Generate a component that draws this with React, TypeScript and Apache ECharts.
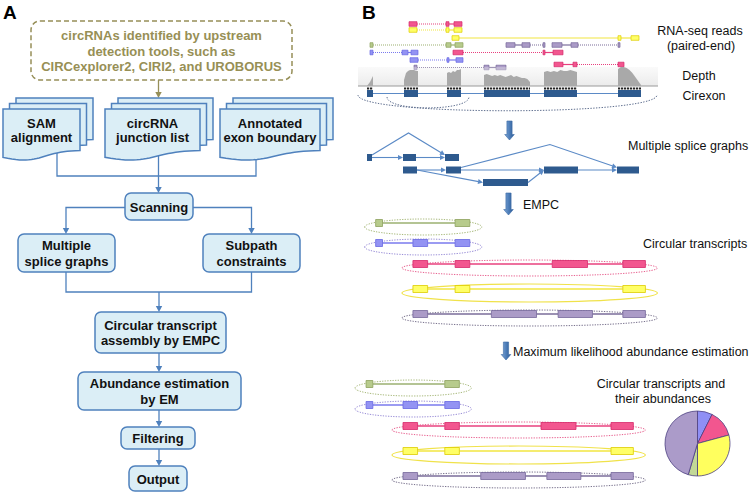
import React, { useEffect, useRef } from "react";
import * as echarts from "echarts";

const FONT = "'Liberation Sans', Arial, Helvetica, sans-serif";

// ---------------- Panel A texts ----------------
const upstreamText = ["circRNAs identified by upstream", "detection tools, such as", "CIRCexplorer2, CIRI2, and UROBORUS"];
const inputDocs = [["SAM", "alignment"], ["circRNA", "junction list"], ["Annotated", "exon boundary"]];
const stepTexts = [
  ["Scanning"],
  ["Multiple", "splice graphs"],
  ["Subpath", "constraints"],
  ["Circular transcript", "assembly by EMPC"],
  ["Abundance estimation", "by EM"],
  ["Filtering"],
  ["Output"],
];

// ---------------- Panel B data (genome coordinates) ----------------
const cirexons = [[367, 373], [404, 418], [447, 461], [484, 530], [544, 577], [618, 641]];
const depthHeights = [
  [0, 2, 4, 7, 10],
  [6, 13, 15, 16, 16, 16, 15, 15],
  [13, 14, 13, 15, 14, 16, 16, 17],
  [11, 12, 11, 10, 11, 10, 11, 10, 9, 10, 11, 9, 10, 9, 8, 8, 7, 4],
  [14, 15, 14, 15, 14, 16, 15, 15, 16, 15, 14],
  [17, 19, 19, 18, 16, 13, 9, 5, 1],
];
// paired-end reads: row, colour, mates (each mate = list of aligned blocks)
const reads = [
  { row: 0, c: "pink", mates: [[[409, 417]], [[446, 449], [454, 462]]] },
  { row: 1, c: "yellow", mates: [[[409, 417]], [[446, 449], [454, 462]]] },
  { row: 2, c: "yellow", mates: [[[452, 459], [618, 621], [631, 639]]] },
  { row: 3, c: "green", mates: [[[370, 373]], [[446, 451], [455, 463]]] },
  { row: 3, c: "purple", mates: [[[506, 515], [522, 530]], [[543, 545]]] },
  { row: 3, c: "purple", mates: [[[552, 562], [571, 578]], [[618, 620]]] },
  { row: 4, c: "blue", mates: [[[370, 373]], [[402, 408], [411, 418]]] },
  { row: 4, c: "pink", mates: [[[453, 463]], [[543, 545], [553, 563]]] },
  { row: 5, c: "blue", mates: [[[410, 418]], [[447, 449], [456, 463]]] },
  { row: 6, c: "pink", mates: [[[554, 563], [573, 577]], [[618, 624]]] },
  { row: 7, c: "purple", mates: [[[414, 417]], [[484, 489], [496, 506]]] },
];
// splice graph nodes [start, end, row] and edges [from, to, humpHeight, humpPos]
const spliceNodes = [
  [367, 372, 0], [403, 416, 0], [445, 459, 0],
  [403, 417, 1], [446, 461, 1], [483, 528, 2], [544, 578, 1], [617, 639, 1],
];
const spliceEdges = [
  [0, 2, 22, 0.5], [0, 1, 0, 0], [1, 2, 0, 0], [3, 4, 0, 0], [3, 5, 0, 0],
  [4, 7, 23, 0.57], [4, 6, 0, 0], [5, 6, 0, 0], [6, 7, 0, 0],
];
const transcriptColors = ["green", "blue", "pink", "yellow", "purple"];
const transcriptExons = [
  [[366, 373], [447, 462]],
  [[366, 373], [404, 419], [447, 462]],
  [[404, 419], [447, 462], [546, 582], [618, 641]],
  [[404, 419], [447, 462], [618, 641]],
  [[404, 419], [484, 530], [552, 587], [618, 641]],
];
const pieNames = ["blue", "pink", "yellow", "green", "purple"];
const pieValues = [7.4, 13.4, 29.2, 4.6, 45.4];
const panelBLabels = [
  "RNA-seq reads", "(paired-end)", "Depth", "Cirexon", "Multiple splice graphs", "EMPC",
  "Circular transcripts", "Maximum likelihood abundance estimation", "Circular transcripts and", "their abundances",
];

// ---------------- styles ----------------
const PAL: Record<string, { fill: string; stroke: string; line: string; ell: string }> = {
  green: { fill: "#b7cb8c", stroke: "#8da15d", line: "#9bb070", ell: "#a9ba7c" },
  blue: { fill: "#9393f3", stroke: "#6767e2", line: "#7a7aee", ell: "#9a8ed8" },
  pink: { fill: "#f2568f", stroke: "#d6286a", line: "#e8407e", ell: "#e8608f" },
  yellow: { fill: "#ffff66", stroke: "#ddcc00", line: "#f2e640", ell: "#f0e24a" },
  purple: { fill: "#ab9bc7", stroke: "#75679a", line: "#7a6c9a", ell: "#77708c" },
};
const BLUE = "#4f81bd";
const BOXFILL = "#dbeef6";
const DARK = "#2e5a8e";

function buildGraphics() {
  const el: any[] = [];
  const line = (pts: number[][], stroke: string, lw = 1, dash?: number[]) =>
    el.push({ type: "polyline", silent: true, shape: { points: pts }, style: { stroke, lineWidth: lw, fill: null, lineDash: dash } });
  const poly = (pts: number[][], fill: any, stroke?: string, lw = 1) =>
    el.push({ type: "polygon", silent: true, shape: { points: pts }, style: { fill, stroke: stroke || null, lineWidth: lw } });
  const rect = (x: number, y: number, w: number, h: number, fill: string, stroke?: string, lw = 1, r = 0) =>
    el.push({ type: "rect", silent: true, shape: { x, y, width: w, height: h, r }, style: { fill, stroke: stroke || null, lineWidth: lw } });
  const text = (x: number, y: number, t: string, size: number, weight = "normal", fill = "#111", align = "center") =>
    el.push({
      type: "text", silent: true, x, y,
      style: { text: t, font: `${weight} ${size}px ${FONT}`, fill, align, verticalAlign: "middle", textAlign: align, textVerticalAlign: "middle" },
    });
  const head = (x1: number, y1: number, x2: number, y2: number, len: number, half: number, color: string) => {
    const a = Math.atan2(y2 - y1, x2 - x1);
    const bx = x2 - len * Math.cos(a), by = y2 - len * Math.sin(a);
    const px = -Math.sin(a) * half, py = Math.cos(a) * half;
    poly([[x2, y2], [bx + px, by + py], [bx - px, by - py]], color);
    return [bx, by];
  };
  const arrowLine = (pts: number[][], color: string, lw: number, len: number, half: number) => {
    const n = pts.length;
    const [x1, y1] = pts[n - 2];
    const [x2, y2] = pts[n - 1];
    const a = Math.atan2(y2 - y1, x2 - x1);
    const cut = [x2 - (len - 0.5) * Math.cos(a), y2 - (len - 0.5) * Math.sin(a)];
    line([...pts.slice(0, n - 1), cut], color, lw);
    head(x1, y1, x2, y2, len, half, color);
  };
  const blockArrow = (cx: number, top: number, bottom: number) => {
    const s = 2.6, h = 4.8, hl = 5.5;
    poly(
      [[cx - s, top], [cx + s, top], [cx + s, bottom - hl], [cx + h, bottom - hl], [cx, bottom], [cx - h, bottom - hl], [cx - s, bottom - hl]],
      new echarts.graphic.LinearGradient(0, 0, 1, 0, [
        { offset: 0, color: "#7ea6d6" }, { offset: 0.5, color: "#4f7fba" }, { offset: 1, color: "#2c5a94" },
      ]),
      "#3a6aa5", 0.6
    );
  };
  const bez = (p0: number[], p1: number[], p2: number[], p3: number[], t: number) => {
    const u = 1 - t;
    return [
      u * u * u * p0[0] + 3 * u * u * t * p1[0] + 3 * u * t * t * p2[0] + t * t * t * p3[0],
      u * u * u * p0[1] + 3 * u * u * t * p1[1] + 3 * u * t * t * p2[1] + t * t * t * p3[1],
    ];
  };
  const docPts = (x: number, y: number, w: number, h: number) => {
    const pts = [[x, y], [x + w, y], [x + w, y + 0.8 * h]];
    const p0 = [x + w, y + 0.8 * h], p1 = [x + 0.5 * w, y + 0.8 * h], p2 = [x + 0.5 * w, y + 1.1 * h], p3 = [x, y + 0.93 * h];
    for (let i = 1; i <= 24; i++) pts.push(bez(p0, p1, p2, p3, i / 24));
    return pts;
  };

  // ================= Panel A =================
  text(3, 12, "A", 19, "bold", "#000", "left");
  // upstream dashed box
  el.push({
    type: "rect", silent: true, shape: { x: 31, y: 21, width: 261, height: 59, r: 9 },
    style: { fill: null, stroke: "#968f58", lineWidth: 1.5, lineDash: [5, 3] },
  });
  const upY = [35, 51, 66];
  upstreamText.forEach((t, i) => text(161.5, upY[i], t, 13, "bold", "#978f55"));
  arrowLine([[158.5, 80], [158.5, 98]], "#968f58", 1.3, 6, 3.2);

  // connectors under docs (drawn before docs)
  line([[57, 150], [57, 176], [256, 176], [256, 150]], BLUE, 1.3);
  line([[158.5, 150], [158.5, 176]], BLUE, 1.3);
  arrowLine([[158.5, 176], [158.5, 193]], BLUE, 1.3, 6, 3.2);

  // input document stacks
  const docX = [3, 105, 220], docW = [77, 95, 100];
  const docTop = 109, docH = 52;
  inputDocs.forEach((lines, i) => {
    [[13, -11], [6.5, -5.5], [0, 0]].forEach(([dx, dy]) => {
      poly(docPts(docX[i] + dx, docTop + dy, docW[i], docH), BOXFILL, BLUE, 1.5);
    });
    const cx = docX[i] + docW[i] / 2;
    text(cx, 123, lines[0], 13, "bold");
    text(cx, 137.5, lines[1], 13, "bold");
  });

  // process boxes
  const boxes = [
    { x: 125, y: 193, w: 68, h: 27 },
    { x: 18, y: 234, w: 97, h: 38 },
    { x: 203, y: 234, w: 97, h: 38 },
    { x: 95, y: 312, w: 131, h: 41 },
    { x: 78, y: 372, w: 163, h: 38 },
    { x: 121, y: 427, w: 74, h: 22 },
    { x: 129, y: 466, w: 58, h: 25 },
  ];
  // connectors
  arrowLine([[125, 207.5], [66, 207.5], [66, 234]], BLUE, 1.3, 6, 3.2);
  arrowLine([[193, 207.5], [251.5, 207.5], [251.5, 234]], BLUE, 1.3, 6, 3.2);
  line([[66, 272], [66, 292], [251.5, 292], [251.5, 272]], BLUE, 1.3);
  arrowLine([[159, 292], [159, 312]], BLUE, 1.3, 6, 3.2);
  arrowLine([[159, 353], [159, 372]], BLUE, 1.3, 6, 3.2);
  arrowLine([[159, 410], [159, 427]], BLUE, 1.3, 6, 3.2);
  arrowLine([[159, 449], [159, 466]], BLUE, 1.3, 6, 3.2);
  boxes.forEach((b, i) => {
    rect(b.x, b.y, b.w, b.h, BOXFILL, BLUE, 1.5, 6);
    const lines = stepTexts[i];
    const cy = b.y + b.h / 2 + 0.5;
    lines.forEach((t, k) => text(b.x + b.w / 2, cy + (k - (lines.length - 1) / 2) * 15.5, t, 13, "bold"));
  });

  // ================= Panel B =================
  text(362, 12, "B", 19, "bold", "#000", "left");

  // reads
  const rowY = [24, 30, 38, 45, 52.5, 60, 64.5, 67.5];
  reads.forEach((r) => {
    const p = PAL[r.c];
    const y = rowY[r.row];
    // dotted between mates
    for (let m = 0; m < r.mates.length - 1; m++) {
      const a = r.mates[m][r.mates[m].length - 1][1];
      const b = r.mates[m + 1][0][0];
      line([[a, y], [b, y]], p.line, 1.2, [1, 1]);
    }
    r.mates.forEach((blocks) => {
      for (let k = 0; k < blocks.length - 1; k++) line([[blocks[k][1], y], [blocks[k + 1][0], y]], p.line, 1.2);
    });
    r.mates.forEach((blocks) => blocks.forEach(([s, e]) => rect(s, y - 2.3, e - s, 4.6, p.fill, p.stroke, 0.7)));
  });

  // depth
  const base = 86;
  el.push({
    type: "rect", silent: true, shape: { x: 358, y: 67, width: 300, height: base - 67 },
    style: { fill: new echarts.graphic.LinearGradient(0, 0, 0, 1, [{ offset: 0, color: "rgba(238,238,238,0.3)" }, { offset: 1, color: "#ebebeb" }]) },
  });
  line([[358, base], [658, base]], "#9a9a9a", 1);
  cirexons.forEach(([s, e], i) => {
    const hs = depthHeights[i];
    const pts: number[][] = [[s, base]];
    hs.forEach((h, k) => pts.push([s + (k * (e - s)) / (hs.length - 1), base - h]));
    pts.push([e, base]);
    poly(pts, "#a9a9a9");
    line([[s, 88.5], [e, 88.5]], "#222", 2, [2.2, 0.8]);
  });

  // cirexons
  line([[367, 93.5], [641, 93.5]], "#5b8ac6", 1.2);
  cirexons.forEach(([s, e]) => rect(s, 90, e - s, 7, DARK));
  el.push({
    type: "bezierCurve", silent: true,
    shape: { x1: 387, y1: 97, x2: 469, y2: 97, cpx1: 387, cpy1: 111.5, cpx2: 469, cpy2: 111.5 },
    style: { stroke: "#5f6f8f", lineWidth: 1, lineDash: [1.4, 1.4], fill: null },
  });
  el.push({
    type: "bezierCurve", silent: true,
    shape: { x1: 358, y1: 95, x2: 657, y2: 95, cpx1: 358, cpy1: 116, cpx2: 657, cpy2: 116 },
    style: { stroke: "#5f6f8f", lineWidth: 1, lineDash: [1.4, 1.4], fill: null },
  });

  blockArrow(509.5, 121, 140);

  // splice graphs
  const sRow = [157.5, 170, 182.5];
  spliceEdges.forEach(([a, b, hump, pos]) => {
    const A = spliceNodes[a], B = spliceNodes[b];
    if (hump > 0) {
      const y0 = sRow[A[2]] - 2.5;
      const x1 = A[1], x2 = B[0];
      arrowLine([[x1, y0], [x1 + (x2 - x1) * pos, y0 - hump], [x2, y0]], "#5b8ac6", 1.1, 5, 2.6);
    } else {
      arrowLine([[A[1], sRow[A[2]]], [B[0], sRow[B[2]]]], "#5b8ac6", 1.1, 5, 2.6);
    }
  });
  spliceNodes.forEach(([s, e, r]) => rect(s, sRow[r] - 3.5, e - s, 7, DARK));

  blockArrow(508.5, 193, 215);

  // transcripts (two panels)
  const drawTranscripts = (map: (g: number) => number, rows: number[]) => {
    transcriptExons.forEach((ex, i) => {
      const p = PAL[transcriptColors[i]];
      const y = rows[i];
      const x1 = map(ex[0][0]) - 11, x2 = map(ex[ex.length - 1][1]) + 12;
      const yellow = transcriptColors[i] === "yellow";
      el.push({
        type: "ellipse", silent: true,
        shape: { cx: (x1 + x2) / 2, cy: y + 4, rx: (x2 - x1) / 2, ry: yellow ? 9 : 8 },
        style: { fill: null, stroke: p.ell, lineWidth: yellow ? 1.2 : 1, lineDash: yellow ? null : [1.3, 1.3] },
      });
      for (let k = 0; k < ex.length - 1; k++) line([[map(ex[k][1]), y], [map(ex[k + 1][0]), y]], p.line, 1.5);
      ex.forEach(([s, e]) => rect(map(s), y - 3.5, map(e) - map(s), 7, p.fill, p.stroke, 0.8));
    });
  };
  drawTranscripts((g) => 0.981 * g + 16.6, [223, 243, 264, 289, 314]);

  blockArrow(506, 342, 360);

  drawTranscripts((g) => 0.972 * g + 10.3, [384, 405, 426, 451, 476]);

  // panel B labels
  const L = panelBLabels;
  text(700, 31, L[0], 12.5);
  text(701, 46, L[1], 12.5);
  text(699, 76, L[2], 12.5);
  text(704, 96, L[3], 12.5);
  text(628, 146, L[4], 12.5, "normal", "#111", "left");
  text(523, 205, L[5], 12.5, "normal", "#111", "left");
  text(643, 244, L[6], 12.5, "normal", "#111", "left");
  text(513, 352, L[7], 12.5, "normal", "#111", "left");
  text(661, 384, L[8], 12.5);
  text(663, 399, L[9], 12.5);

  return el;
}

const pieColors: Record<string, string> = {
  blue: "#8f8ff5", pink: "#f2568f", yellow: "#ffff5e", green: "#c2d896", purple: "#ab9bc9",
};

export default function App() {
  const ref = useRef<HTMLDivElement>(null);
  useEffect(() => {
    if (!ref.current) return;
    const chart = echarts.init(ref.current, null, { renderer: "svg" });
    chart.setOption({
      animation: false,
      backgroundColor: "#ffffff",
      graphic: { elements: buildGraphics() },
      series: [
        {
          type: "pie",
          center: [697.5, 443.5],
          radius: 32.5,
          startAngle: 90,
          clockwise: true,
          silent: true,
          label: { show: false },
          labelLine: { show: false },
          itemStyle: { borderColor: "#4b3f80", borderWidth: 0.8 },
          data: pieValues.map((v, i) => ({ value: v, name: pieNames[i], itemStyle: { color: pieColors[pieNames[i]] } })),
        },
      ],
    });
    return () => chart.dispose();
  }, []);
  return <div ref={ref} style={{ position: "absolute", left: 0, top: 0, width: 751, height: 494, background: "#fff" }} />;
}
